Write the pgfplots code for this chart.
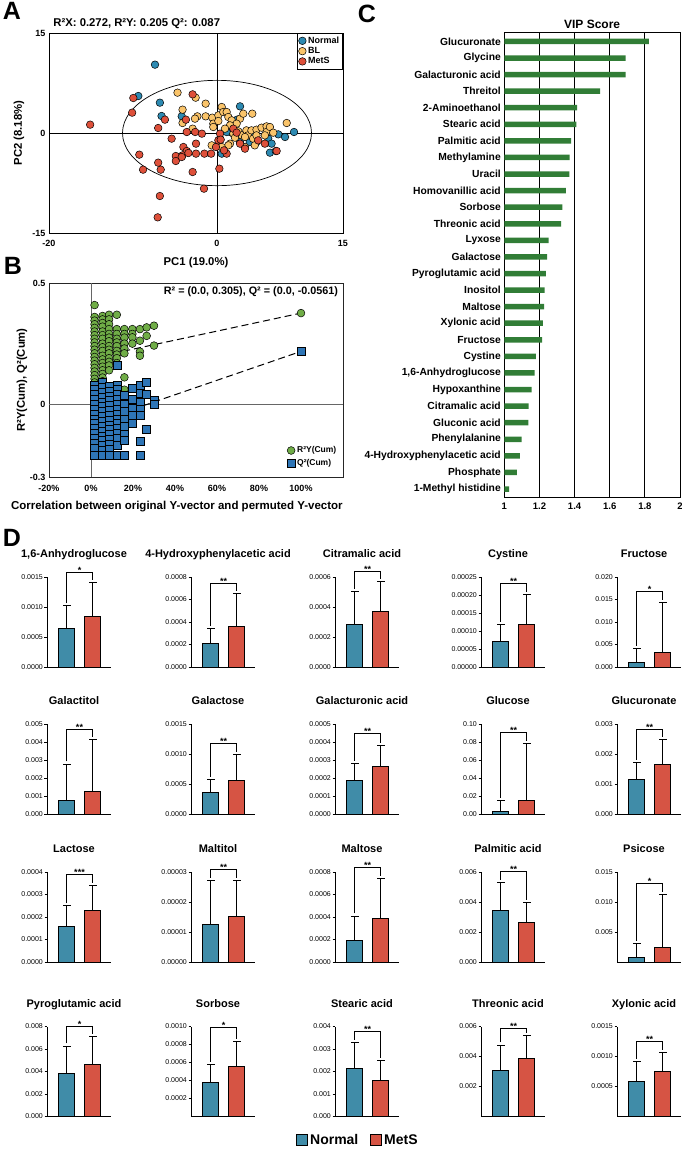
\documentclass[border=0pt]{standalone}
\usepackage{fontspec}
\setmainfont{Liberation Sans}
\usepackage{pgfplots}
\pgfplotsset{compat=1.18}

\definecolor{nblue}{RGB}{64,140,168}
\definecolor{mred}{RGB}{214,84,68}
\definecolor{pnorm}{RGB}{45,138,178}
\definecolor{pbl}{RGB}{250,196,106}
\definecolor{pmets}{RGB}{222,80,58}
\definecolor{rgreen}{RGB}{112,173,71}
\definecolor{qblue}{RGB}{46,117,182}
\definecolor{vipgreen}{RGB}{49,125,54}

\newcommand{\fs}[1]{\fontsize{#1}{#1}\selectfont}
\newcommand{\fsb}[1]{\fontsize{#1}{#1}\selectfont\bfseries}

\pgfplotsset{
  /pgf/number format/assume math mode=true,
  dstyle/.style={
    scale only axis, width=64pt, height=90pt, anchor=south west,
    xmin=0, xmax=64, ymin=0,
    axis lines*=left, axis line style={line width=0.9pt},
    xtick=\empty, tick align=outside, major tick length=2.5pt,
    every tick/.style={line width=0.7pt, black},
    yticklabel style={font=\fs{7}, inner sep=1.5pt},
    scaled y ticks=false,
    title style={font=\fsb{11}, at={(0.5,1)}, anchor=base, yshift=13.5pt, xshift=-5pt},
    clip=false,
  },
  nbar/.style={ybar, bar width=16pt, bar shift=0pt, fill=nblue, draw=black, line width=0.8pt},
  mbar/.style={ybar, bar width=16pt, bar shift=0pt, fill=mred, draw=black, line width=0.8pt},
  ebar/.style={black, line width=0.9pt, mark=-, mark indices={2}, mark size=4pt, forget plot},
  pcadot/.style={only marks, mark=*, mark size=3.8pt, mark options={draw=black, line width=0.5pt, fill=#1}},
}

% group means and upper error limits: Normal mean, Normal top, MetS mean, MetS top
\def\dsplit#1,#2,#3,#4\relax{\def\dBm{#1}\def\dBt{#2}\def\dRm{#3}\def\dRt{#4}}

% #1 x, #2 y of origin, #3 title, #4 ymax, #5 ticks, #6 tick labels,
% #7 data, #8 bracket level, #9 significance
\newcommand{\dpanel}[9]{%
  \dsplit#7\relax
  \begin{axis}[dstyle, at={(#1pt,-#2pt)}, ymax=#4, ytick={#5}, yticklabels={#6}, title={#3}]
    \edef\dtmp{%
      \noexpand\addplot[nbar] coordinates {(19.5,\dBm)};%
      \noexpand\addplot[mbar] coordinates {(45.5,\dRm)};%
      \noexpand\addplot[ebar] coordinates {(19.5,\dBm) (19.5,\dBt)};%
      \noexpand\addplot[ebar] coordinates {(45.5,\dRm) (45.5,\dRt)};%
    }\dtmp
    \draw[line width=0.8pt] ([yshift=2.5pt]axis cs:19.5,\dBt) -- (axis cs:19.5,#8) -- (axis cs:45.5,#8) -- ([yshift=2.5pt]axis cs:45.5,\dRt);
    \node[font=\fsb{9}, anchor=base, inner sep=0pt, yshift=-1pt] at (axis cs:32.5,#8) {#9};
  \end{axis}}

\begin{document}
\begin{tikzpicture}
\path[use as bounding box] (0,0) rectangle (682pt,-1149pt);

% panel letters
\node[font=\fsb{25}] at (12pt,-11pt) {A};
\node[font=\fsb{25}] at (13pt,-266pt) {B};
\node[font=\fsb{25}] at (367pt,-14pt) {C};
\node[font=\fsb{25}] at (12pt,-538pt) {D};

% ---------------- A: PLS-DA scores ----------------
\begin{axis}[
  at={(49pt,-233pt)}, anchor=south west, scale only axis, width=294pt, height=200pt,
  xmin=-20, xmax=15, ymin=-15, ymax=15,
  xtick={-20,0,15}, xticklabels={-20,0,15},
  ytick={-15,0,15}, yticklabels={-15,0,15},
  major tick length=0pt,
  tick label style={font=\fsb{9}},
  xticklabel style={yshift=-4pt},
  axis line style={line width=0.8pt},
  xlabel={PC1 (19.0\%)}, ylabel={PC2 (8.18\%)},
  label style={font=\fsb{11.3}},
  xlabel style={at={(axis description cs:0.5,-0.15)}, anchor=center},
  ylabel style={at={(axis description cs:-0.102,0.5)}, anchor=center},
  title={R²X: 0.272, R²Y: 0.205 Q²: 0.087},
  title style={font=\fsb{11.3}, at={(axis description cs:0.003,1)}, anchor=base west, yshift=0.5pt},
  legend style={at={(1,1)}, anchor=north east, font=\fsb{9}, draw=black, line width=0.6pt,
    inner sep=1.5pt, row sep=-1.5pt, cells={anchor=west}},
]
\draw[line width=0.8pt] (axis cs:0,-15) -- (axis cs:0,15);
\draw[line width=0.8pt] (axis cs:-20,0) -- (axis cs:15,0);
\draw[line width=0.7pt] (axis cs:0,0) ellipse [x radius=11.25, y radius=7.9];
\addplot[pcadot=pnorm] coordinates {
(-7.38,10.25) (-9.37,5.55) (-6.8,4.55) (-6.6,2.55) (-4.2,2.5) (2.74,4) (2.4,2)
(1.55,0.15) (3.5,0.15) (4.3,-0.6) (4.7,-1.35) (6.1,-0.85) (6.5,-1.6) (7.3,-0.2)
(8.1,-0.6) (9.17,0.15) (6.3,-2.95) (7.0,-2.7) (0.56,-3.1) (0.36,-0.85) (1.15,0.15)
(2.74,-1.35) (3.9,-1.35)};
\addlegendentry{Normal}
\addplot[pcadot=pbl] coordinates {
(-4.7,6.05) (-2.54,5.3) (-1.35,4.4) (-4.1,3.5) (-4.1,1.5) (-2.9,0.65) (-2.34,2.5)
(-1.35,2.5) (-0.56,2.3) (0.16,2.65) (0.56,3.9) (0.75,3.15) (1.15,3.15) (1.35,2.4)
(1.75,1.9) (2.74,2.15) (3.13,2.9) (4.2,2.9) (-0.44,1.4) (0.16,1.8) (1.94,0.9)
(2.34,1.4) (-0.44,0.9) (1.55,1.15) (0.95,0.65) (1.94,-0.1) (2.54,0.25) (2.94,-0.35)
(3.5,0.4) (3.7,-0.35) (4.1,0.4) (4.7,0.5) (5.3,0.8) (5.9,1.0) (5.9,0.15) (6.3,0.9)
(6.7,0.05) (5.7,-0.35) (4.3,-0.85) (3.33,-0.6) (3.33,-2.1) (4.5,-1.85) (2.14,-0.7)
(1.55,-1.6) (1.35,-1.85) (0.56,-2.1) (-0.63,-1.85) (-2.62,2.15) (8.3,1.5) (4.7,-0.35)};
\addlegendentry{BL}
\addplot[pcadot=pmets] coordinates {
(-15.1,1.25) (-9.96,5.25) (-10.1,3.05) (-6.2,2.0) (-7.0,0.75) (-5.4,-0.85) (-2.9,5.8)
(-3.7,2.0) (-3.6,0.15) (-2.6,0.15) (-1.8,-0.1) (-2.5,-1.6) (-4.0,-2.1) (-3.6,-2.7)
(-4.1,-3.35) (-4.9,-3.45) (-4.9,-4.2) (-4.2,-3.6) (-3.4,-3.0) (-2.5,-3.1) (-1.5,-3.1)
(-0.7,-3.1) (-0.12,-2.1) (0.16,-1.1) (0.36,-0.1) (0.44,-1.0) (1.15,-3.1) (0.83,-2.6)
(0.28,-5.35) (-9.25,-3.25) (-8.8,-5.5) (-7.0,-4.45) (-6.7,-5.5) (-2.9,-5.85)
(-1.55,-8.35) (-6.8,-9.45) (2.74,-1.6) (3.33,-2.35) (5.7,-1.6) (7.1,-2.7) (4.9,-1.1)
(1.94,0.65) (2.34,0.05) (-7.06,-12.65)};
\addlegendentry{MetS}
\end{axis}

% ---------------- B: permutation test ----------------
\begin{axis}[
  at={(49pt,-477pt)}, anchor=south west, scale only axis, width=294pt, height=194pt,
  xmin=-20, xmax=120, ymin=-0.3, ymax=0.5,
  xtick={-20,0,20,40,60,80,100}, xticklabels={-20\%,0\%,20\%,40\%,60\%,80\%,100\%},
  ytick={-0.3,0,0.5}, yticklabels={-0.3,0,0.5},
  major tick length=0pt, tick label style={font=\fsb{9}},
  xticklabel style={yshift=-4.5pt},
  axis line style={line width=0.7pt, black!85},
  xlabel={Correlation between original Y-vector and permuted Y-vector},
  ylabel={R²Y(Cum), Q²(Cum)},
  xlabel style={font=\fsb{11.5}, at={(axis description cs:0.435,-0.152)}, anchor=center},
  ylabel style={font=\fsb{11.3}, at={(axis description cs:-0.092,0.5)}, anchor=center},
  legend style={at={(0.995,0.03)}, anchor=south east, draw=none, fill=none,
    font=\fsb{8.5}, cells={anchor=west}, row sep=1pt},
]
\draw[black!60, line width=0.6pt] (axis cs:-20,0) -- (axis cs:120,0);
\draw[black!60, line width=0.6pt] (axis cs:0,-0.3) -- (axis cs:0,0.5);
\addplot[black, line width=1pt, dash pattern=on 7pt off 4pt, forget plot] coordinates {(0,0.19) (100,0.376)};
\addplot[black, line width=1pt, dash pattern=on 7pt off 4pt, forget plot] coordinates {(0,-0.08) (100,0.218)};
\addplot[only marks, mark=*, mark size=3.9pt, mark options={draw=black, line width=0.5pt, fill=rgreen}] coordinates {
(1.7,0.409) (1.7,0.36) (1.7,0.345) (1.7,0.33) (1.7,0.315) (1.7,0.30) (1.7,0.285) (1.7,0.27)
(1.7,0.255) (1.7,0.24) (1.7,0.225) (1.7,0.21) (1.7,0.195) (1.7,0.18) (1.7,0.165) (1.7,0.15)
(1.7,0.135) (1.7,0.12) (1.7,0.105) (1.7,0.09)
(5.5,0.364) (5.5,0.35) (5.5,0.335) (5.5,0.32) (5.5,0.30) (5.5,0.285) (5.5,0.27) (5.5,0.25)
(5.5,0.235) (5.5,0.22) (5.5,0.20) (5.5,0.185) (5.5,0.17) (5.5,0.155) (5.5,0.14) (5.5,0.125)
(5.5,0.11) (5.5,0.095)
(8.6,0.369) (8.6,0.35) (8.6,0.33) (8.6,0.31) (8.6,0.29) (8.6,0.275) (8.6,0.26) (8.6,0.24)
(8.6,0.225) (8.6,0.21) (8.6,0.19) (8.6,0.175) (8.6,0.16) (8.6,0.14)
(12.3,0.369) (12.3,0.31) (12.3,0.29) (12.3,0.27) (12.3,0.255) (12.3,0.24) (12.3,0.22)
(12.3,0.205) (12.3,0.19) (12.3,0.17)
(15.9,0.31) (15.9,0.29) (15.9,0.275) (15.9,0.25) (15.9,0.23) (15.9,0.21) (15.9,0.111) (15.9,0.06)
(19.7,0.31) (19.7,0.29) (19.7,0.276) (19.7,0.25)
(23.3,0.31) (23.3,0.262) (23.3,0.217) (23.3,0.2) (23.3,0.05)
(26.5,0.317) (26.5,0.282) (30,0.324) (30,0.242)
(100,0.376)};
\addlegendentry{R²Y(Cum)}
\addplot[only marks, mark=square*, mark size=4pt, mark options={draw=black, line width=0.5pt, fill=qblue}] coordinates {
(1.7,0.08) (1.7,0.06) (1.7,0.04) (1.7,0.02) (1.7,0.0) (1.7,-0.02) (1.7,-0.04) (1.7,-0.06)
(1.7,-0.08) (1.7,-0.10) (1.7,-0.12) (1.7,-0.14) (1.7,-0.16) (1.7,-0.18) (1.7,-0.21)
(5.5,0.09) (5.5,0.07) (5.5,0.05) (5.5,0.03) (5.5,0.01) (5.5,-0.01) (5.5,-0.03) (5.5,-0.05)
(5.5,-0.07) (5.5,-0.09) (5.5,-0.11) (5.5,-0.13) (5.5,-0.15) (5.5,-0.17) (5.5,-0.19) (5.5,-0.21)
(8.6,0.075) (8.6,0.055) (8.6,0.035) (8.6,0.015) (8.6,-0.005) (8.6,-0.025) (8.6,-0.045)
(8.6,-0.065) (8.6,-0.085) (8.6,-0.105) (8.6,-0.125) (8.6,-0.145) (8.6,-0.165) (8.6,-0.185) (8.6,-0.21)
(12.3,0.159) (12.3,0.08) (12.3,0.06) (12.3,0.04) (12.3,0.02) (12.3,0.0) (12.3,-0.02) (12.3,-0.04)
(12.3,-0.06) (12.3,-0.08) (12.3,-0.10) (12.3,-0.12) (12.3,-0.14) (12.3,-0.17) (12.3,-0.21)
(15.9,0.039) (15.9,0.0) (15.9,-0.03) (15.9,-0.06) (15.9,-0.09) (15.9,-0.125) (15.9,-0.15) (15.9,-0.21)
(19.7,0.065) (19.7,0.02) (19.7,-0.015) (19.7,-0.045) (19.7,-0.08)
(23.3,0.077) (23.3,0.045) (23.3,0.01) (23.3,-0.02) (23.3,-0.045) (23.3,-0.153) (23.3,-0.211)
(26.5,0.09) (26.5,0.043) (26.5,-0.104) (30,0.018) (30,0.0)
(100,0.218)};
\addlegendentry{Q²(Cum)}
\node[anchor=east, font=\fsb{10.8}] at (axis description cs:0.995,0.954) {R² = (0.0, 0.305), Q² = (0.0, -0.0561)};
\end{axis}

% ---------------- C: VIP scores ----------------
\begin{axis}[
  at={(504.3pt,-497.3pt)}, anchor=south west, scale only axis, width=175.7pt, height=465pt,
  xmin=1, xmax=2, ymin=-0.55, ymax=27.5, y dir=reverse,
  xtick={1,1.2,1.4,1.6,1.8,2}, xticklabels={1,1.2,1.4,1.6,1.8,2},
  ytick={0,...,27},
  yticklabels={Glucuronate,Glycine,Galacturonic acid,Threitol,2-Aminoethanol,Stearic acid,
    Palmitic acid,Methylamine,Uracil,Homovanillic acid,Sorbose,Threonic acid,Lyxose,Galactose,
    Pyroglutamic acid,Inositol,Maltose,Xylonic acid,Fructose,Cystine,{1,6-Anhydroglucose},
    Hypoxanthine,Citramalic acid,Gluconic acid,Phenylalanine,4-Hydroxyphenylacetic acid,
    Phosphate,1-Methyl histidine},
  xmajorgrids, grid style={black, line width=0.8pt},
  major tick length=0pt,
  xticklabel style={font=\fsb{9.5}, yshift=-2pt},
  yticklabel style={font=\fsb{10.3}},
  axis line style={line width=0.8pt},
  title={VIP Score}, title style={font=\fsb{12}, at={(0.5,1)}, anchor=base, yshift=-2.5pt},
]
\addplot[xbar, bar width=5.5pt, bar shift=0pt, fill=vipgreen, draw=none] coordinates {
(1.823,0) (1.691,1) (1.690,2) (1.545,3) (1.414,4) (1.410,5) (1.381,6) (1.372,7) (1.370,8)
(1.351,9) (1.330,10) (1.324,11) (1.252,12) (1.244,13) (1.236,14) (1.229,15) (1.227,16)
(1.219,17) (1.215,18) (1.179,19) (1.173,20) (1.156,21) (1.139,22) (1.137,23) (1.099,24)
(1.088,25) (1.071,26) (1.027,27)};
\end{axis}

% ---------------- D: group comparisons ----------------
% row 1
\dpanel{47}{667}{1,6-Anhydroglucose}{0.0015}{0,0.0005,0.001,0.0015}{0.0000,0.0005,0.0010,0.0015}
  {0.00065,0.00102,0.00085,0.00141}{0.00158}{*}
\dpanel{191}{667}{4-Hydroxyphenylacetic acid}{0.0008}{0,0.0002,0.0004,0.0006,0.0008}{0.0000,0.0002,0.0004,0.0006,0.0008}
  {0.00021,0.00034,0.00036,0.00065}{0.000744}{**}
\dpanel{335}{667}{Citramalic acid}{0.0006}{0,0.0002,0.0004,0.0006}{0.0000,0.0002,0.0004,0.0006}
  {0.000287,0.000502,0.000373,0.000569}{0.000635}{**}
\dpanel{481}{667}{Cystine}{0.00025}{0,0.00005,0.0001,0.00015,0.0002,0.00025}{0.00000,0.00005,0.00010,0.00015,0.00020,0.00025}
  {0.0000703,0.000119,0.000119,0.000202}{0.000231}{**}
\dpanel{617}{667}{Fructose}{0.02}{0,0.005,0.01,0.015,0.02}{0.000,0.005,0.010,0.015,0.020}
  {0.00104,0.00416,0.00318,0.0144}{0.0167}{*}
% row 2
\dpanel{47}{814}{Galactitol}{0.005}{0,0.001,0.002,0.003,0.004,0.005}{0.000,0.001,0.002,0.003,0.004,0.005}
  {0.00078,0.00278,0.00124,0.00415}{0.00472}{**}
\dpanel{191}{814}{Galactose}{0.0015}{0,0.0005,0.001,0.0015}{0.0000,0.0005,0.0010,0.0015}
  {0.000362,0.000583,0.000567,0.00100}{0.00118}{**}
\dpanel{335}{814}{Galacturonic acid}{0.0005}{0,0.0001,0.0002,0.0003,0.0004,0.0005}{0.0000,0.0001,0.0002,0.0003,0.0004,0.0005}
  {0.000189,0.000282,0.000263,0.000383}{0.000448}{**}
\dpanel{481}{814}{Glucose}{0.10}{0,0.02,0.04,0.06,0.08,0.1}{0.00,0.02,0.04,0.06,0.08,0.10}
  {0.0026,0.0148,0.0148,0.0786}{0.0903}{**}
\dpanel{617}{814}{Glucuronate}{0.003}{0,0.001,0.002,0.003}{0.000,0.001,0.002,0.003}
  {0.00116,0.00171,0.00167,0.00249}{0.00282}{**}
% row 3
\dpanel{47}{962}{Lactose}{0.0004}{0,0.0001,0.0002,0.0003,0.0004}{0.0000,0.0001,0.0002,0.0003,0.0004}
  {0.000157,0.00025,0.000228,0.000342}{0.00039}{***}
\dpanel{191}{962}{Maltitol}{0.00003}{0,0.00001,0.00002,0.00003}{0.00000,0.00001,0.00002,0.00003}
  {0.0000127,0.0000273,0.0000153,0.0000273}{0.0000309}{**}
\dpanel{335}{962}{Maltose}{0.0008}{0,0.0002,0.0004,0.0006,0.0008}{0.0000,0.0002,0.0004,0.0006,0.0008}
  {0.000189,0.000409,0.000388,0.000744}{0.000838}{**}
\dpanel{481}{962}{Palmitic acid}{0.006}{0,0.002,0.004,0.006}{0.000,0.002,0.004,0.006}
  {0.00347,0.00529,0.00262,0.00395}{0.00602}{**}
\dpanel{617}{962}{Psicose}{0.015}{0.005,0.01,0.015}{0.005,0.010,0.015}
  {0.00078,0.00312,0.00245,0.01133}{0.0131}{*}
% row 4
\dpanel{47}{1116.5}{Pyroglutamic acid}{0.008}{0,0.002,0.004,0.006,0.008}{0.000,0.002,0.004,0.006,0.008}
  {0.00384,0.00627,0.00467,0.0071}{0.0080}{*}
\dpanel{191}{1116.5}{Sorbose}{0.001}{0.0002,0.0004,0.0006,0.0008,0.001}{0.0002,0.0004,0.0006,0.0008,0.0010}
  {0.00038,0.000583,0.000553,0.000831}{0.00099}{*}
\dpanel{335}{1116.5}{Stearic acid}{0.004}{0,0.001,0.002,0.003,0.004}{0.000,0.001,0.002,0.003,0.004}
  {0.00214,0.0033,0.00162,0.00251}{0.00377}{**}
\dpanel{481}{1116.5}{Threonic acid}{0.006}{0.002,0.004,0.006}{0.002,0.004,0.006}
  {0.0031,0.00477,0.00388,0.00539}{0.00588}{**}
\dpanel{617}{1116.5}{Xylonic acid}{0.0015}{0.0005,0.001,0.0015}{0.0005,0.0010,0.0015}
  {0.000592,0.000913,0.000758,0.00106}{0.00125}{**}

% shared legend
\begin{axis}[hide axis, scale only axis, width=20pt, height=10pt, at={(358pt,-1140pt)}, anchor=center,
  xmin=0, xmax=1, ymin=0, ymax=1,
  legend style={at={(0.5,0.5)}, anchor=center, draw=none, fill=none, font=\fsb{14},
    legend columns=2, /tikz/every even column/.append style={column sep=10pt}},
  legend image code/.code={\draw[#1, line width=0.8pt] (0pt,-5pt) rectangle (11pt,6pt);},
]
\addlegendimage{fill=nblue, draw=black}
\addlegendentry{Normal}
\addlegendimage{fill=mred, draw=black}
\addlegendentry{MetS}
\end{axis}
\end{tikzpicture}
\end{document}
